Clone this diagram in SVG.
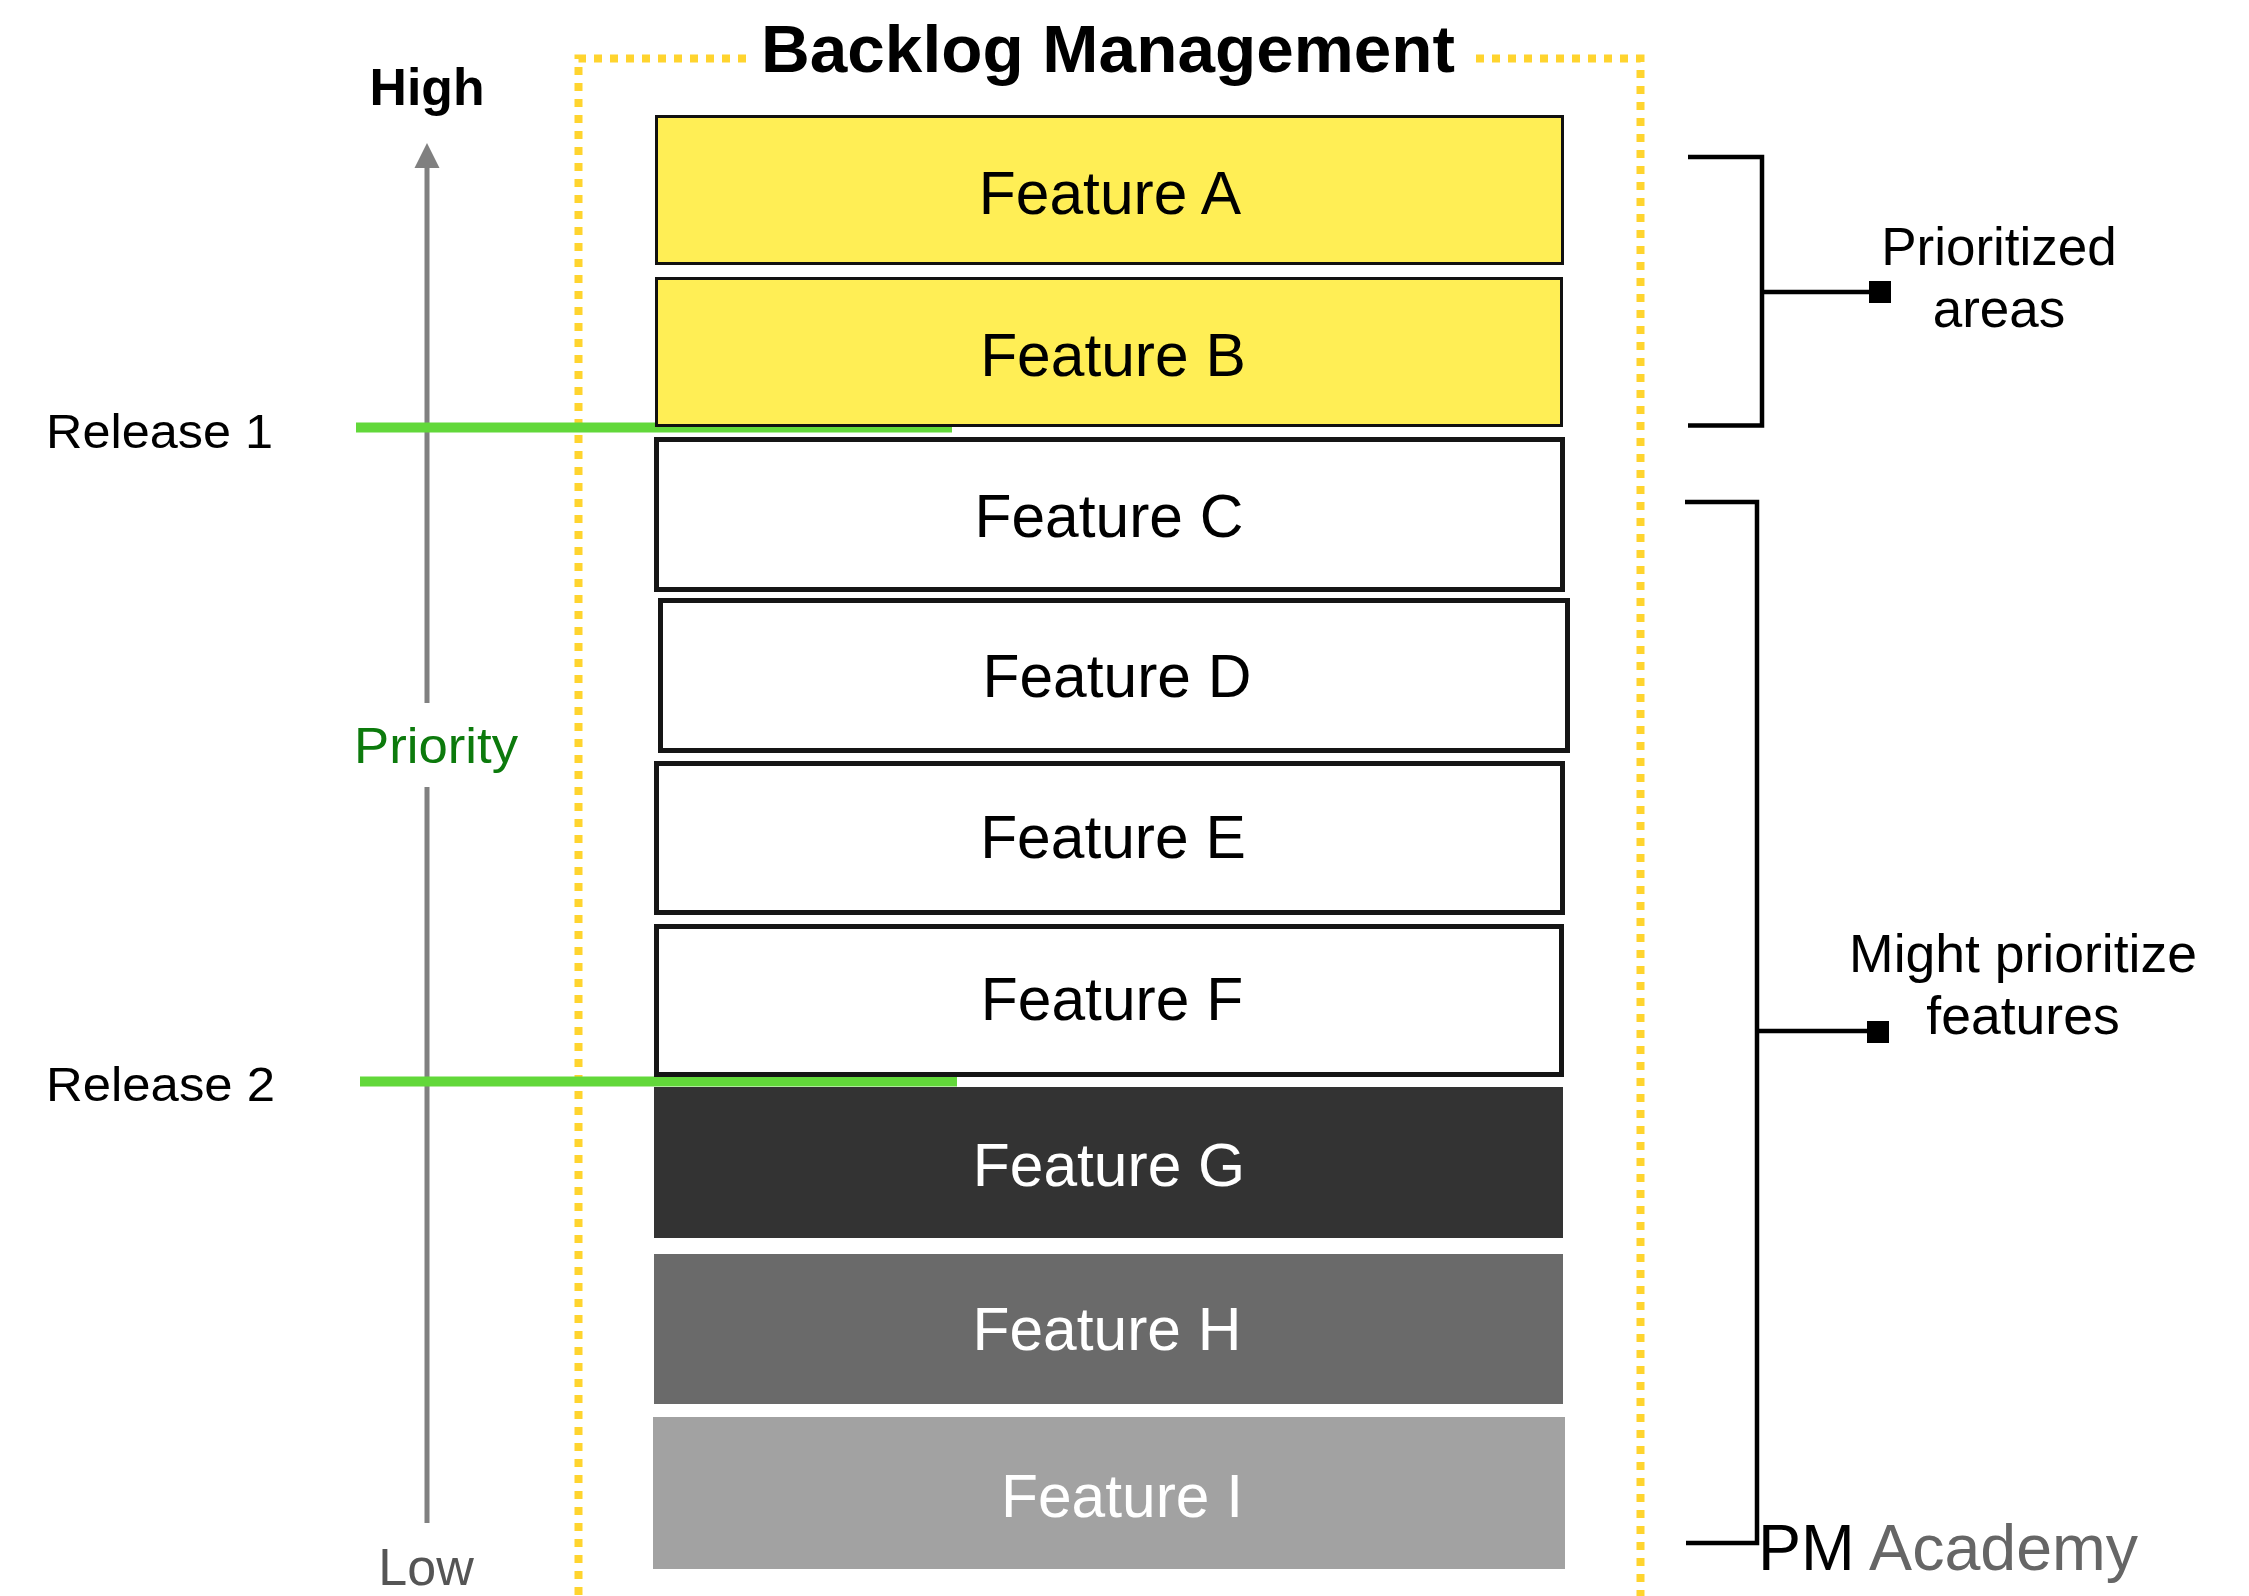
<svg xmlns="http://www.w3.org/2000/svg" width="2249" height="1596" viewBox="0 0 2249 1596">
<defs>
<style>
.lbl{font-family:"Liberation Sans",Arial,sans-serif;}
.feat{font-family:"Liberation Sans",Arial,sans-serif;font-size:60.5px;text-anchor:middle;}
.thin{stroke:#111;stroke-width:3;}
.thick{stroke:#151515;stroke-width:5;fill:#fff;}
.yel{fill:#FFEE55;}
.brk{fill:none;stroke:#000;stroke-width:4.5;}
.rel{stroke:#62D83A;stroke-width:10;}
.dot{fill:none;stroke:#FFD42E;stroke-width:8;stroke-dasharray:8 8;}
</style>
</defs>
<rect width="2249" height="1596" fill="#fff"/>

<g id="backlog-frame">
<path class="dot" d="M746,58.5 H578.5 V1600"/>
<path class="dot" d="M1476,58.5 H1640.5 V1600"/>
<text class="lbl" x="1108" y="72" font-size="66" font-weight="bold" text-anchor="middle" textLength="694" lengthAdjust="spacingAndGlyphs">Backlog Management</text>
</g>

<g id="connectors">
<g id="priority-axis">
<line x1="427" y1="166" x2="427" y2="703" stroke="#808080" stroke-width="5"/>
<line x1="427" y1="787" x2="427" y2="1523" stroke="#808080" stroke-width="5"/>
<polygon points="427,143 439.5,168 414.5,168" fill="#808080"/>
</g>
<line id="release1-line" class="rel" x1="356" y1="427.5" x2="952" y2="427.5"/>
<line id="release2-line" class="rel" x1="360" y1="1081.5" x2="957" y2="1081.5"/>
<g id="bracket-prioritized">
<path class="brk" d="M1688,157 H1762 V425.5 H1688"/>
<path class="brk" d="M1764,292 H1880"/>
<rect x="1869" y="281" width="22" height="22" fill="#000"/>
</g>
<g id="bracket-might">
<path class="brk" d="M1685,502 H1757 V1543 H1686"/>
<path class="brk" d="M1759,1031 H1878"/>
<rect x="1867" y="1021" width="22" height="22" fill="#000"/>
</g>
</g>

<g id="axis-labels">
<text id="high" class="lbl" x="427" y="105" font-size="52" font-weight="bold" text-anchor="middle" textLength="115" lengthAdjust="spacingAndGlyphs">High</text>
<text id="priority" class="lbl" x="436" y="763" font-size="50" fill="#0C7A0C" text-anchor="middle" textLength="164" lengthAdjust="spacingAndGlyphs">Priority</text>
<text id="low" class="lbl" x="426" y="1585" font-size="52" fill="#555" text-anchor="middle">Low</text>
<text id="release1" class="lbl" x="46" y="448" font-size="48" textLength="227" lengthAdjust="spacingAndGlyphs">Release 1</text>
<text id="release2" class="lbl" x="46" y="1101" font-size="48" textLength="229" lengthAdjust="spacingAndGlyphs">Release 2</text>
</g>

<g id="feature-a"><rect class="yel thin" x="656.5" y="116.5" width="906" height="147"/><text class="feat" x="1110" y="214">Feature A</text></g>
<g id="feature-b"><rect class="yel thin" x="656.5" y="278.5" width="905" height="147"/><text class="feat" x="1113" y="376">Feature B</text></g>
<g id="feature-c"><rect class="thick" x="656.5" y="439.5" width="906" height="150"/><text class="feat" x="1109" y="537">Feature C</text></g>
<g id="feature-d"><rect class="thick" x="660.5" y="600.5" width="907" height="150"/><text class="feat" x="1117" y="697">Feature D</text></g>
<g id="feature-e"><rect class="thick" x="656.5" y="763.5" width="906" height="149"/><text class="feat" x="1113" y="858">Feature E</text></g>
<g id="feature-f"><rect class="thick" x="656.5" y="926.5" width="905" height="148"/><text class="feat" x="1112" y="1020">Feature F</text></g>
<g id="feature-g"><rect x="654" y="1087" width="909" height="151" fill="#333"/><text class="feat" x="1109" y="1186" fill="#fff">Feature G</text></g>
<g id="feature-h"><rect x="654" y="1254" width="909" height="150" fill="#6A6A6A"/><text class="feat" x="1107" y="1350" fill="#fff">Feature H</text></g>
<g id="feature-i"><rect x="653" y="1417" width="912" height="152" fill="#A2A2A2"/><text class="feat" x="1122" y="1517" fill="#fff">Feature I</text></g>

<g id="note-prioritized">
<text class="lbl" x="1999" y="265" font-size="53" text-anchor="middle">Prioritized</text>
<text class="lbl" x="1999" y="327" font-size="53" text-anchor="middle">areas</text>
</g>
<g id="note-might">
<text class="lbl" x="2023" y="972" font-size="53.5" text-anchor="middle">Might prioritize</text>
<text class="lbl" x="2023" y="1034" font-size="53.5" text-anchor="middle">features</text>
</g>
<g id="brand">
<text class="lbl" x="1758" y="1570" font-size="64.5"><tspan fill="#000">PM</tspan><tspan fill="#666"> Academy</tspan></text>
</g>
</svg>
